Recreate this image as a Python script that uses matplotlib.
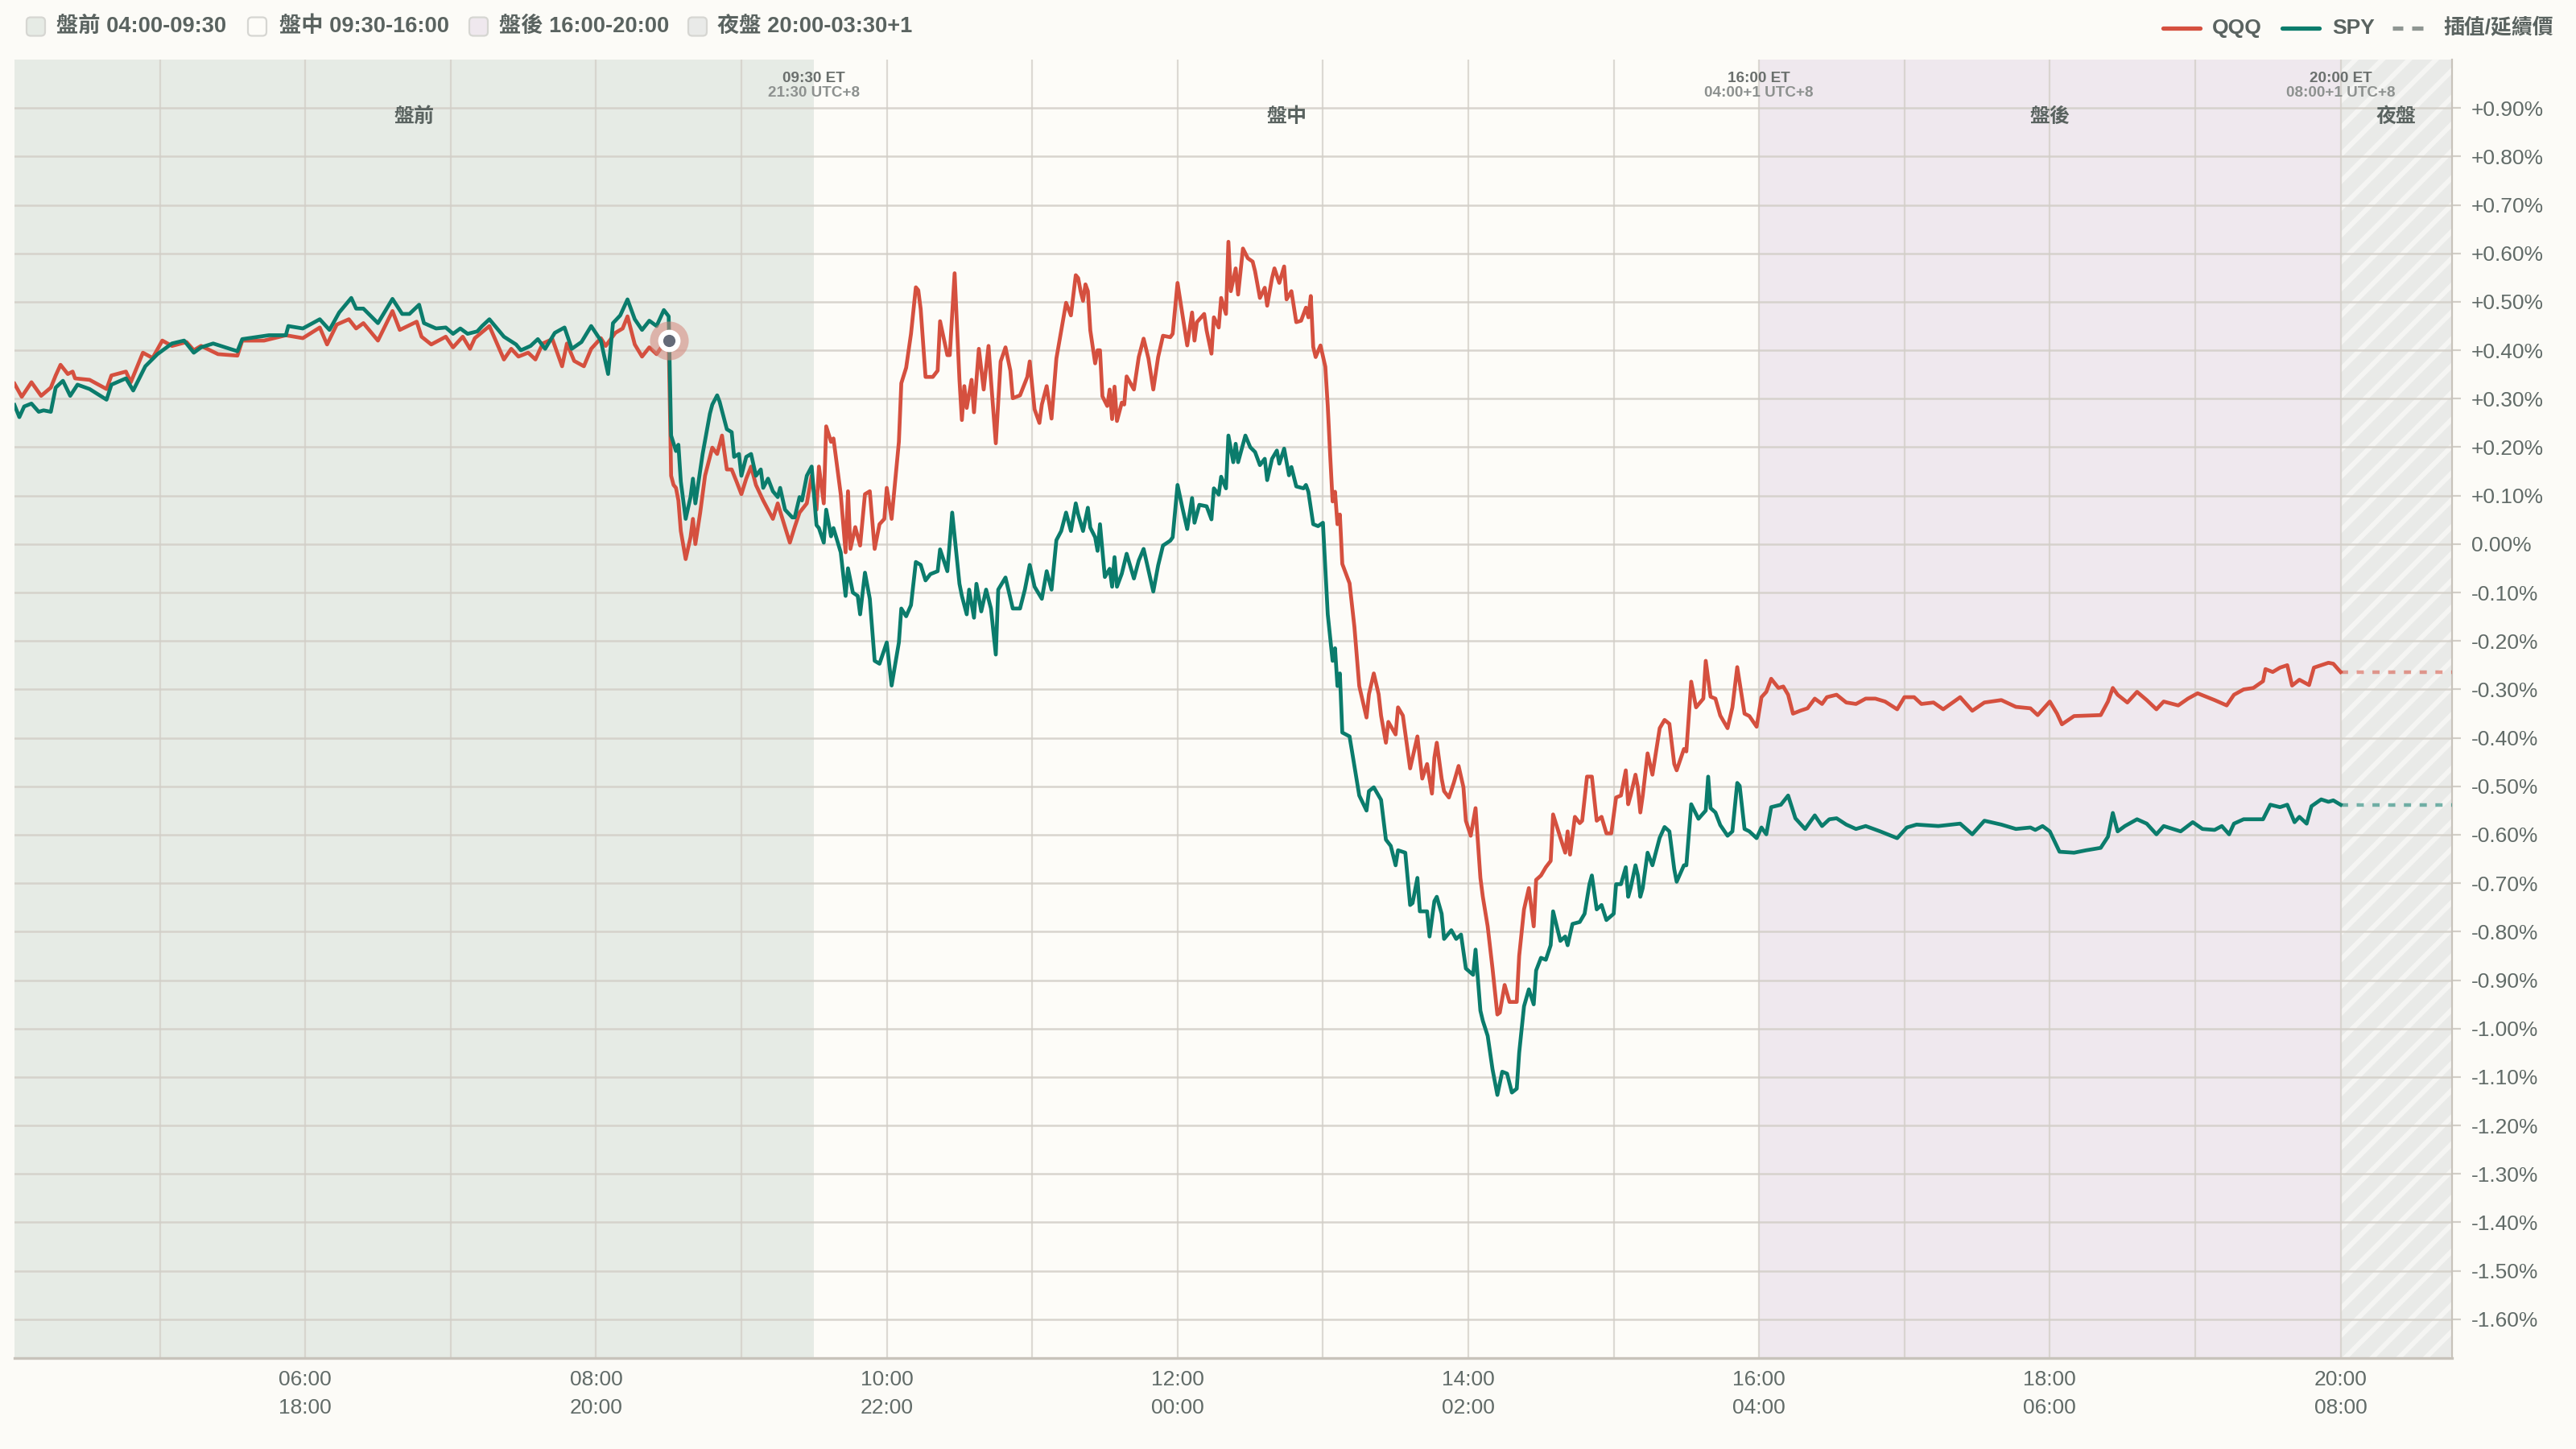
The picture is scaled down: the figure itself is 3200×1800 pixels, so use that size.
import matplotlib
matplotlib.use("Agg")
import matplotlib.pyplot as plt
import matplotlib.ticker as mticker
import matplotlib.transforms as mtransforms
from matplotlib.patches import FancyBboxPatch
from matplotlib.lines import Line2D
import numpy as np

plt.rcParams['font.family'] = ['Liberation Sans', 'Noto Sans CJK TC', 'DejaVu Sans']
plt.rcParams['hatch.linewidth'] = 2.2

# ---------------- data ----------------
qqq_time = [
    "04:00","04:03","04:07","04:11","04:15","04:17","04:19","04:22","04:24","04:25","04:31","04:38","04:40","04:46","04:48","04:53","04:57","05:01","05:05","05:11","05:14","05:17","05:24","05:32","05:34","05:43","05:52","05:59",
    "06:06","06:09","06:13","06:18","06:21","06:24","06:30","06:36","06:39","06:46","06:48","06:52","06:58","07:01","07:05","07:08","07:10",
    "07:16","07:22","07:25","07:28","07:32","07:35","07:38","07:42","07:46","07:48","07:51","07:55","07:58","08:02","08:04","08:08","08:11","08:13","08:16","08:19","08:22","08:25","08:28","08:30",
    "08:31","08:32","08:33","08:34","08:35","08:37","08:39","08:40","08:41","08:43","08:45","08:47","08:48","08:50","08:52","08:54","08:56","08:58","09:00","09:02","09:04","09:06","09:09","09:11","09:13","09:15","09:18","09:20","09:22","09:24","09:27","09:29",
    "09:31","09:32","09:34","09:35","09:37","09:38","09:41","09:43","09:44","09:45","09:47","09:49","09:51","09:53","09:55","09:57","09:59","10:00","10:02","10:05","10:06","10:08","10:10","10:12","10:13","10:14","10:16","10:19","10:21","10:22","10:25","10:26","10:28",
    "10:30","10:31","10:32","10:33","10:35","10:36","10:38","10:40","10:42","10:43","10:45","10:47","10:49","10:51","10:52","10:55","10:58","10:59","11:01","11:03","11:04","11:06","11:08","11:10","11:12","11:14","11:16","11:18",
    "11:19","11:20","11:21","11:22","11:23","11:24","11:26","11:27","11:28","11:29","11:31","11:32","11:33","11:34","11:35","11:37","11:38","11:39","11:42","11:44","11:46","11:48","11:50","11:52","11:54","11:57","11:58",
    "12:00","12:02","12:04","12:06","12:07","12:08","12:11","12:12","12:14","12:15","12:17","12:18","12:20","12:21","12:22","12:24","12:25","12:27","12:29","12:31","12:32","12:34","12:36","12:37","12:39","12:40","12:42","12:44","12:45","12:47","12:49","12:51","12:53","12:54","12:55","12:56","12:57","12:59",
    "13:01","13:02","13:03","13:04","13:05","13:06","13:07","13:08","13:11","13:13","13:15","13:18","13:19","13:21","13:23","13:24","13:26","13:27","13:30","13:31","13:33","13:36","13:39","13:41","13:43","13:45","13:46","13:47","13:49","13:50","13:52","13:54","13:56","13:58","13:59",
    "14:01","14:03","14:05","14:06","14:08","14:10","14:12","14:13","14:15","14:17","14:20","14:21","14:23","14:25","14:27","14:28","14:30","14:32","14:34","14:35","14:38","14:40","14:41","14:42","14:44","14:46","14:47","14:49","14:51","14:53","14:55","14:57","14:59",
    "15:01","15:03","15:05","15:06","15:07","15:09","15:10","15:11","15:12","15:14","15:16","15:19","15:21","15:23","15:25","15:26","15:29","15:30","15:32","15:34","15:37","15:38","15:40","15:42","15:44","15:47","15:49","15:51","15:54","15:56","15:59",
    "16:01","16:03","16:05","16:08","16:10","16:12","16:14","16:17","16:20","16:23","16:26","16:28","16:32","16:36","16:40","16:44","16:48","16:52","16:57","17:00",
    "17:04","17:07","17:12","17:16","17:23","17:28","17:33","17:40","17:46","17:52","17:55","18:00","18:03","18:05","18:10","18:21","18:24","18:26","18:28","18:32","18:36","18:40","18:44","18:47","18:53","18:57",
    "19:01","19:08","19:13","19:16","19:20","19:24","19:28","19:29","19:32","19:35","19:38","19:40","19:43","19:47","19:49","19:52","19:55","19:57","20:00",
]
qqq_pct = [
    .331,.304,.334,.306,.323,.348,.370,.351,.356,.342,.339,.320,.348,.356,.334,.395,.384,.420,.409,.417,.400,.409,.392,.389,.420,.420,.431,.425,
    .447,.412,.453,.464,.445,.456,.420,.481,.442,.459,.428,.412,.428,.406,.428,.403,.425,
    .450,.381,.403,.387,.395,.381,.414,.423,.367,.414,.378,.367,.403,.425,.409,.436,.445,.470,.412,.387,.406,.392,.414,.420,
    .141,.122,.116,.090,.027,-.031,.014,.052,.000,.065,.141,.180,.199,.186,.224,.154,.154,.129,.103,.135,.160,.122,.090,.071,.052,.084,.035,.003,.035,.065,.084,.141,
    .071,.160,.084,.243,.211,.218,.103,-.017,.109,-.010,.035,-.003,.103,.109,-.010,.041,.052,.116,.052,.211,.332,.364,.434,.530,.524,.485,.345,.345,.358,.460,.390,.390,.559,
    .339,.256,.326,.281,.339,.272,.403,.319,.409,.339,.208,.377,.406,.358,.301,.307,.345,.377,.278,.250,.288,.326,.259,.383,.441,.498,.472,.555,
    .549,.522,.502,.536,.522,.441,.373,.400,.400,.305,.285,.319,.258,.325,.254,.292,.288,.346,.319,.386,.424,.383,.319,.386,.430,.427,.434,
    .539,.475,.410,.478,.420,.458,.475,.441,.393,.468,.447,.508,.475,.624,.522,.569,.515,.610,.590,.583,.563,.508,.529,.492,.549,.569,.539,.573,.505,.522,.458,.461,.488,.468,.512,.407,.386,.410,
    .366,.285,.183,.088,.108,.041,.061,-.041,-.081,-.171,-.293,-.358,-.310,-.267,-.310,-.354,-.410,-.367,-.393,-.337,-.354,-.463,-.397,-.484,-.454,-.515,-.441,-.410,-.484,-.510,-.523,-.493,-.458,-.502,-.571,
    -.602,-.545,-.689,-.728,-.789,-.876,-.971,-.967,-.910,-.945,-.945,-.850,-.754,-.710,-.789,-.693,-.684,-.667,-.654,-.558,-.606,-.637,-.593,-.641,-.563,-.576,-.571,-.480,-.480,-.571,-.563,-.597,-.597,
    -.523,-.519,-.467,-.537,-.519,-.476,-.502,-.554,-.519,-.432,-.476,-.380,-.363,-.371,-.454,-.467,-.423,-.428,-.284,-.337,-.319,-.241,-.315,-.319,-.354,-.380,-.337,-.254,-.350,-.355,-.377,
    -.316,-.305,-.278,-.297,-.294,-.311,-.350,-.344,-.339,-.319,-.330,-.316,-.311,-.327,-.330,-.319,-.319,-.325,-.341,-.316,
    -.316,-.330,-.327,-.341,-.316,-.344,-.327,-.322,-.336,-.339,-.353,-.325,-.350,-.372,-.355,-.353,-.325,-.297,-.311,-.327,-.305,-.322,-.341,-.325,-.333,-.319,
    -.308,-.322,-.333,-.311,-.300,-.297,-.283,-.258,-.264,-.255,-.250,-.292,-.280,-.291,-.255,-.250,-.245,-.247,-.264,
]

spy_time = [
    "04:00","04:02","04:04","04:07","04:10","04:12","04:15","04:17","04:20","04:23","04:26","04:31","04:38","04:40","04:46","04:49","04:54","04:59","05:05","05:10","05:14","05:17","05:22","05:32","05:34","05:45","05:52","05:53","05:59",
    "06:06","06:10","06:14","06:19","06:21","06:24","06:30","06:36","06:40","06:43","06:47","06:49","06:54","06:58","07:01","07:04","07:07","07:11","07:13","07:16",
    "07:22","07:27","07:29","07:33","07:36","07:39","07:43","07:47","07:50","07:54","07:58","08:02","08:05","08:07","08:10","08:13","08:16","08:19","08:22","08:25","08:28","08:30",
    "08:31","08:33","08:34","08:35","08:37","08:39","08:40","08:41","08:44","08:47","08:48","08:50","08:51","08:54","08:56","08:57","08:59","09:00","09:02","09:04","09:06","09:08","09:09","09:11","09:13","09:15","09:16","09:18","09:21","09:22","09:24","09:25","09:27","09:29",
    "09:31","09:32","09:34","09:35","09:37","09:38","09:41","09:43","09:44","09:46","09:48","09:49","09:51","09:53","09:55","09:57","10:00","10:02","10:05","10:06","10:08","10:10","10:12","10:14","10:16","10:18","10:21","10:22","10:25","10:27",
    "10:30","10:31","10:33","10:34","10:36","10:37","10:39","10:41","10:43","10:45","10:46","10:49","10:52","10:55","10:57","10:59","11:01","11:04","11:06","11:08","11:10","11:12","11:14","11:16","11:18",
    "11:19","11:21","11:23","11:24","11:26","11:27","11:28","11:30","11:32","11:33","11:34","11:35","11:37","11:39","11:42","11:44","11:46","11:48","11:50","11:52","11:54","11:57","11:58",
    "12:00","12:02","12:04","12:06","12:07","12:09","12:12","12:14","12:15","12:17","12:18","12:20","12:21","12:23","12:24","12:25","12:28","12:30","12:32","12:34","12:36","12:37","12:39","12:41","12:42","12:44","12:46","12:47","12:49","12:52","12:53","12:54","12:56","12:58","13:00",
    "13:02","13:04","13:05","13:06","13:07","13:08","13:11","13:13","13:15","13:18","13:19","13:21","13:24","13:26","13:28","13:30","13:31","13:34","13:36","13:37","13:39","13:40","13:43","13:44","13:46","13:47","13:49","13:50","13:53","13:55","13:57","13:59",
    "14:02","14:03","14:05","14:06","14:08","14:10","14:12","14:14","14:16","14:18","14:20","14:21","14:23","14:25","14:27","14:28","14:30","14:32","14:34","14:35","14:38","14:40","14:41","14:43","14:46","14:48","14:50","14:51","14:53","14:55","14:57","15:00",
    "15:01","15:03","15:05","15:06","15:07","15:09","15:10","15:11","15:12","15:14","15:16","15:19","15:21","15:23","15:25","15:26","15:29","15:30","15:32","15:35","15:38","15:39","15:40","15:42","15:44","15:47","15:49","15:51","15:52","15:54","15:56","15:59",
    "16:01","16:03","16:05","16:09","16:12","16:15","16:19","16:23","16:26","16:29","16:32","16:36","16:40","16:44","16:50","16:57","17:01",
    "17:05","17:14","17:23","17:28","17:33","17:40","17:46","17:52","17:54","17:57","18:00","18:04","18:10","18:15","18:21","18:24","18:26","18:28","18:31","18:36","18:40","18:44","18:47","18:54","18:59",
    "19:03","19:08","19:11","19:14","19:16","19:20","19:28","19:31","19:35","19:38","19:41","19:43","19:46","19:48","19:52","19:55","19:57","20:00",
]
spy_pct = [
    .287,.262,.284,.290,.273,.276,.273,.323,.337,.306,.329,.320,.298,.329,.342,.317,.367,.392,.414,.420,.395,.406,.414,.398,.423,.431,.431,.450,.445,
    .464,.442,.478,.508,.486,.486,.456,.506,.475,.475,.494,.456,.445,.447,.434,.445,.434,.439,.450,.464,
    .428,.412,.400,.409,.423,.403,.436,.447,.403,.417,.450,.420,.351,.456,.472,.505,.464,.442,.461,.450,.483,.470,
    .224,.192,.205,.129,.052,.097,.135,.084,.186,.269,.288,.307,.294,.237,.231,.180,.186,.141,.180,.186,.141,.154,.116,.135,.109,.097,.116,.071,.055,.055,.097,.090,.141,.160,
    .039,.033,.003,.071,.016,.033,-.017,-.107,-.050,-.100,-.107,-.145,-.059,-.113,-.241,-.247,-.203,-.292,-.203,-.133,-.149,-.126,-.037,-.043,-.075,-.062,-.056,-.011,-.056,.065,
    -.082,-.107,-.145,-.094,-.152,-.082,-.139,-.094,-.133,-.228,-.094,-.069,-.133,-.133,-.094,-.043,-.088,-.113,-.056,-.094,.008,.027,.065,.027,.084,
    .061,.027,.075,.034,.014,-.014,.041,-.068,-.051,-.088,-.027,-.088,-.061,-.020,-.071,-.034,-.010,-.054,-.098,-.044,-.003,.007,.014,
    .122,.075,.031,.095,.044,.081,.078,.051,.115,.102,.139,.115,.224,.169,.207,.169,.224,.200,.190,.163,.176,.132,.176,.193,.166,.197,.142,.159,.119,.115,.122,.108,.041,.037,.044,
    -.145,-.241,-.215,-.293,-.267,-.389,-.397,-.458,-.519,-.550,-.510,-.502,-.528,-.610,-.623,-.663,-.632,-.637,-.745,-.741,-.689,-.758,-.758,-.810,-.737,-.728,-.763,-.815,-.797,-.815,-.806,-.876,
    -.889,-.837,-.963,-.984,-1.015,-1.084,-1.137,-1.089,-1.093,-1.132,-1.124,-1.050,-.954,-.919,-.950,-.880,-.854,-.858,-.828,-.758,-.819,-.810,-.828,-.784,-.780,-.763,-.702,-.684,-.754,-.745,-.776,-.763,
    -.702,-.702,-.667,-.728,-.710,-.663,-.684,-.728,-.710,-.637,-.663,-.606,-.584,-.593,-.671,-.697,-.663,-.663,-.537,-.567,-.550,-.480,-.545,-.554,-.580,-.602,-.593,-.493,-.499,-.588,-.593,-.607,
    -.585,-.599,-.543,-.538,-.519,-.566,-.588,-.560,-.582,-.568,-.566,-.579,-.588,-.582,-.593,-.607,-.585,
    -.579,-.582,-.577,-.599,-.571,-.579,-.588,-.585,-.590,-.582,-.593,-.635,-.637,-.632,-.627,-.604,-.555,-.593,-.582,-.568,-.577,-.599,-.582,-.593,-.574,
    -.588,-.590,-.582,-.599,-.577,-.568,-.568,-.538,-.543,-.538,-.574,-.563,-.577,-.541,-.527,-.532,-.529,-.538,
]

assert len(qqq_time) == len(qqq_pct), (len(qqq_time), len(qqq_pct))
assert len(spy_time) == len(spy_pct), (len(spy_time), len(spy_pct))

session_names = ["盤前", "盤中", "盤後", "夜盤"]
session_legend = ["盤前 04:00-09:30", "盤中 09:30-16:00", "盤後 16:00-20:00", "夜盤 20:00-03:30+1"]
session_start = ["04:00", "09:30", "16:00", "20:00"]
session_end = ["09:30", "16:00", "20:00", "20:46"]
boundary_et = ["09:30 ET", "16:00 ET", "20:00 ET"]
boundary_utc8 = ["21:30 UTC+8", "04:00+1 UTC+8", "08:00+1 UTC+8"]
xtick_et = ["06:00", "08:00", "10:00", "12:00", "14:00", "16:00", "18:00", "20:00"]
xtick_utc8 = ["18:00", "20:00", "22:00", "00:00", "02:00", "04:00", "06:00", "08:00"]
event_time = "08:30"
y_range = (-1.68, 1.00)

# ---------------- style ----------------
BG = "#fcfbf7"
REG_BG = "#fdfcf8"
PRE_BG = "#e6ebe5"
AFT_BG = "#efe8ee"
NIGHT_BG = "#e9eae8"
NIGHT_STRIPE = "#f5f5f3"
session_colors = [PRE_BG, REG_BG, AFT_BG, NIGHT_BG]
QQQ_C = "#d5503f"
SPY_C = "#0b7c6c"
GRID_C = "#d2cec7"
TXT_C = "#5a6360"
TICK_C = "#616b68"


def hours(s):
    h, m = s.split(":")
    return int(h) + int(m) / 60.0


W, H, DPI = 3200, 1800, 200
fig = plt.figure(figsize=(W / DPI, H / DPI), dpi=DPI, facecolor=BG)
ax_l, ax_r, ax_t, ax_b = 18, 3046, 74, 1687
ax = fig.add_axes([ax_l / W, 1 - ax_b / H, (ax_r - ax_l) / W, (ax_b - ax_t) / H])
ax.set_facecolor(REG_BG)

x0 = hours(session_start[0])
x1 = hours(session_end[-1])
ax.set_xlim(x0, x1)
ax.set_ylim(*y_range)

# session backgrounds
for i, (s, e) in enumerate(zip(session_start, session_end)):
    if i == 1:
        continue
    if i == 3:
        ax.axvspan(hours(s), hours(e), facecolor=NIGHT_BG, edgecolor=NIGHT_STRIPE,
                   hatch="//", lw=0, zorder=0)
    else:
        ax.axvspan(hours(s), hours(e), facecolor=session_colors[i], lw=0, zorder=0)

# grid / ticks
ax.set_axisbelow(True)
ax.set_xticks([hours(t) for t in xtick_et])
ax.set_xticks(np.arange(5, 21), minor=True)
ax.set_xticklabels([f"{a}\n{b}" for a, b in zip(xtick_et, xtick_utc8)], linespacing=1.55)
ax.set_yticks(np.round(np.arange(-16, 10) / 10.0, 2))
ax.yaxis.set_major_formatter(mticker.FuncFormatter(
    lambda v, p: "0.00%" if abs(v) < 1e-9 else f"{v:+.2f}%"))
ax.yaxis.tick_right()
ax.grid(True, which="both", axis="x", color=GRID_C, lw=0.8, alpha=0.75)
ax.grid(True, which="major", axis="y", color=GRID_C, lw=0.9, alpha=0.85)
ax.tick_params(axis="x", which="both", length=0, pad=5.5, labelsize=9.5, labelcolor=TICK_C)
ax.tick_params(axis="y", which="major", length=4, width=0.8, color=GRID_C, pad=4.5,
               labelsize=9.5, labelcolor=TICK_C)
for side in ("top", "left"):
    ax.spines[side].set_visible(False)
ax.spines["bottom"].set_color("#c8c3bb")
ax.spines["bottom"].set_linewidth(1.2)
ax.spines["right"].set_color("#c8c3bb")
ax.spines["right"].set_linewidth(0.8)

# series
qx = [hours(t) for t in qqq_time]
sx = [hours(t) for t in spy_time]
ax.plot(qx, qqq_pct, color=QQQ_C, lw=1.7, solid_joinstyle="round", zorder=3)
ax.plot(sx, spy_pct, color=SPY_C, lw=1.7, solid_joinstyle="round", zorder=4)

# carried-forward values through the night session
ax.plot([qx[-1], x1], [qqq_pct[-1], qqq_pct[-1]], color=QQQ_C, lw=1.6, alpha=0.55,
        ls=(0, (2, 2.4)), zorder=3)
ax.plot([sx[-1], x1], [spy_pct[-1], spy_pct[-1]], color=SPY_C, lw=1.6, alpha=0.55,
        ls=(0, (2, 2.4)), zorder=4)

# event marker
ev_i = qqq_time.index(event_time)
ev_x, ev_y = qx[ev_i], qqq_pct[ev_i]
ax.scatter([ev_x], [ev_y], s=300, color="#d4857a", alpha=0.55, lw=0, zorder=6)
ax.scatter([ev_x], [ev_y], s=100, color="white", lw=0, zorder=7)
ax.scatter([ev_x], [ev_y], s=30, color="#646a78", lw=0, zorder=8)

# session labels and boundary annotations
tr = mtransforms.blended_transform_factory(ax.transData, ax.transAxes)
for name, s, e in zip(session_names, session_start, session_end):
    ax.text((hours(s) + hours(e)) / 2, 1 - (145 - ax_t) / (ax_b - ax_t), name, transform=tr,
            ha="center", va="center", fontsize=9, fontweight="bold", color=TXT_C, zorder=9)
for s, et, u8 in zip(session_start[1:], boundary_et, boundary_utc8):
    ax.text(hours(s), 1 - (98 - ax_t) / (ax_b - ax_t), et, transform=tr, ha="center",
            va="center", fontsize=6.8, fontweight="bold", color="#6a6f6d", zorder=9)
    ax.text(hours(s), 1 - (115 - ax_t) / (ax_b - ax_t), u8, transform=tr, ha="center",
            va="center", fontsize=6.8, fontweight="bold", color="#8d918f", zorder=9)

# ---------------- top legends ----------------
ident = mtransforms.IdentityTransform()
leg_y = 33
sq_x = [33, 308, 583, 855]
txt_x = [70, 347, 620, 891]
for i, lab in enumerate(session_legend):
    fig.add_artist(FancyBboxPatch((sq_x[i], H - leg_y - 11.5), 23, 23,
                                  boxstyle="round,pad=0,rounding_size=5",
                                  facecolor=session_colors[i], edgecolor="#d6d6d2",
                                  lw=0.8, transform=ident))
    fig.text(txt_x[i] / W, 1 - leg_y / H, lab, ha="left", va="center", fontsize=9.8,
             fontweight="bold", color=TXT_C)

leg2_y = H - 35
fig.add_artist(Line2D([2687, 2733], [leg2_y, leg2_y], color=QQQ_C, lw=1.9,
                      solid_capstyle="round", transform=ident))
fig.text(2748 / W, 1 - 35 / H, "QQQ", ha="left", va="center", fontsize=9.5,
         fontweight="bold", color=TXT_C)
fig.add_artist(Line2D([2835, 2881], [leg2_y, leg2_y], color=SPY_C, lw=1.9,
                      solid_capstyle="round", transform=ident))
fig.text(2897 / W, 1 - 35 / H, "SPY", ha="left", va="center", fontsize=9.5,
         fontweight="bold", color=TXT_C)
fig.add_artist(Line2D([2972, 2985], [leg2_y, leg2_y], color="#8f9692", lw=1.9,
                      solid_capstyle="butt", transform=ident))
fig.add_artist(Line2D([2996, 3010], [leg2_y, leg2_y], color="#8f9692", lw=1.9,
                      solid_capstyle="butt", transform=ident))
fig.text(3035 / W, 1 - 35 / H, "插值/延續價", ha="left", va="center", fontsize=9.3,
         fontweight="bold", color=TXT_C)

fig.savefig("out.png", dpi=DPI, facecolor=BG)
